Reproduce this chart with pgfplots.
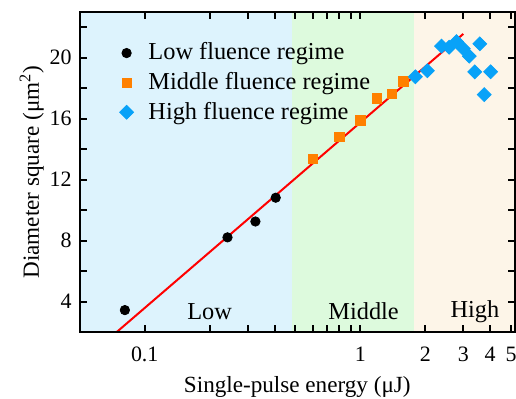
\documentclass[border=0pt]{standalone}
\usepackage{fontspec}
\setmainfont{Liberation Serif}
\usepackage{pgfplots}
\pgfplotsset{compat=1.18}
\definecolor{bgblue}{HTML}{DDF3FD}
\definecolor{bggreen}{HTML}{DDFADD}
\definecolor{bgbeige}{HTML}{FDF5E8}
\definecolor{morange}{HTML}{FF8000}
\definecolor{mblue}{HTML}{08A2F8}
\begin{document}
\fontsize{11.6}{13.9}\selectfont
\begin{tikzpicture}
\begin{axis}[
  xmode=log, xmin=0.05, xmax=5.2, ymin=2, ymax=23,
  scale only axis, width=218pt, height=160.5pt,
  axis on top,
  axis line style={line width=1.2pt},
  every tick/.style={line width=1pt, black},
  tick align=inside, major tick length=3.5pt, minor tick length=3.5pt,
  xtick={0.1,1,2,3,4,5}, xticklabels={0.1,1,2,3,4,5},
  minor xtick={0.2,0.3,0.4,0.5,0.6,0.7,0.8,0.9},
  ytick={4,8,12,16,20}, minor ytick={6,10,14,18,22},
  /pgf/number format/assume math mode=true,
  tick label style={font=\fontsize{11}{13}\selectfont},
  xticklabel style={yshift=-3.5pt},
  xlabel={Single-pulse energy (μJ)},
  xlabel style={yshift=1pt},
  ylabel={Diameter square (μm\textsuperscript{2})},
  ylabel shift=-5pt,
  legend style={draw=none, fill=none, at={(axis description cs:0.077,0.93)}, anchor=north west,
    row sep=0.5pt, column sep=5.5pt, font=\fontsize{12.2}{14.6}\selectfont},
  legend cell align=left,
]
\addplot[fill=bgblue, draw=none, forget plot] coordinates {(0.05,2) (0.483,2) (0.483,23) (0.05,23)} -- cycle;
\addplot[fill=bggreen, draw=none, forget plot] coordinates {(0.483,2) (1.78,2) (1.78,23) (0.483,23)} -- cycle;
\addplot[fill=bgbeige, draw=none, forget plot] coordinates {(1.78,2) (5.2,2) (5.2,23) (1.78,23)} -- cycle;
\addplot[only marks, mark=*, mark size=2.35pt, black] coordinates {
  (0.0809,3.45) (0.242,8.22) (0.326,9.26) (0.405,10.82)};
\addlegendentry{Low fluence regime}
\addplot[only marks, mark=square*, mark size=2.35pt, morange] coordinates {
  (0.603,13.36) (0.800,14.79) (1.0,15.89) (1.19,17.34) (1.40,17.62) (1.585,18.44)};
\addlegendentry{Middle fluence regime}
\addplot[only marks, mark=square*, mark size=2.45pt, mark options={rotate=45}, mblue] coordinates {
  (1.80,18.75) (2.045,19.15) (2.38,20.76) (2.58,20.69) (2.79,21.06) (3.0,20.6)
  (3.2,20.1) (3.39,19.07) (3.58,20.91) (3.75,17.58) (4.02,19.08)};
\addlegendentry{High fluence regime}
\addplot[red, line width=1pt, forget plot] coordinates {(0.074,2) (3.0,21.56)};
\node[font=\fontsize{12.2}{14.6}\selectfont] at (axis cs:0.2,3.35) {Low};
\node[font=\fontsize{12.2}{14.6}\selectfont] at (axis cs:1.035,3.35) {Middle};
\node[font=\fontsize{12.2}{14.6}\selectfont] at (axis cs:3.4,3.35) {High};
\end{axis}
\pgfresetboundingbox
\path[use as bounding box] ([shift={(-40pt,-33pt)}]current axis.south west) rectangle ([shift={(0.6pt,6pt)}]current axis.north east);
\end{tikzpicture}
\end{document}
